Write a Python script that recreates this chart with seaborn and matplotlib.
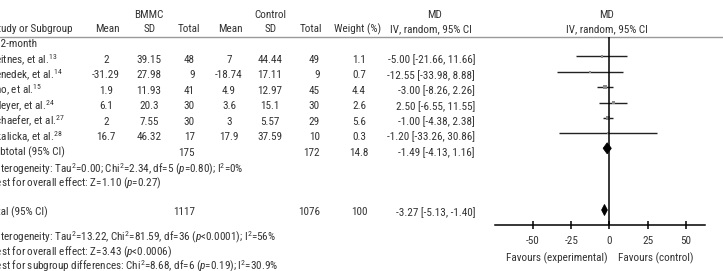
import matplotlib
matplotlib.use("Agg")
import matplotlib.pyplot as plt
from matplotlib import font_manager as fm
import seaborn as sns
import pandas as pd
from matplotlib.patches import Polygon

# ---------------- data ----------------
studies = ["Beitnes, et al.$^{13}$", "Benedek, et al.$^{14}$", "Cao, et al.$^{15}$",
           "Meyer, et al.$^{24}$", "Schaefer, et al.$^{27}$", "Skalicka, et al.$^{28}$"]
hidden_chars = [2, 2, 2, 1, 2, 2]
bm_mean = [2, -31.29, 1.9, 6.1, 2, 16.7]
bm_sd = [39.15, 27.98, 11.93, 20.3, 7.55, 46.32]
bm_n = [48, 9, 41, 30, 30, 17]
ct_mean = [7, -18.74, 4.9, 3.6, 3, 17.9]
ct_sd = [44.44, 17.11, 12.97, 15.1, 5.57, 37.59]
ct_n = [49, 9, 45, 30, 29, 10]
weight = [1.1, 0.7, 4.4, 2.6, 5.6, 0.3]
md = [-5.00, -12.55, -3.00, 2.50, -1.00, -1.20]
lo = [-21.66, -33.98, -8.26, -6.55, -4.38, -33.26]
hi = [11.66, 8.88, 2.26, 11.55, 2.38, 30.86]

sub_bm_n, sub_ct_n, sub_w = 175, 172, 14.8
sub_md, sub_lo, sub_hi = -1.49, -4.13, 1.16
tot_bm_n, tot_ct_n, tot_w = 1117, 1076, 100
tot_md, tot_lo, tot_hi = -3.27, -5.13, -1.40

xticks = [-50, -25, 0, 25, 50]

# ---------------- font: prefer a narrow / condensed sans ----------------
sns.set_theme(style="white")
FAM, STRETCH, FS = "DejaVu Sans", "normal", 6.4
narrow = []
for f in fm.fontManager.ttflist:
    st = str(f.stretch).lower()
    nm = f.name
    if f.style != "normal":
        continue
    if "Narrow" in nm or "Condensed" in nm or st in ("condensed", "semi-condensed", "extra-condensed"):
        if "Mono" in nm or "Serif" in nm:
            continue
        narrow.append(f)
order = ["Liberation Sans Narrow", "Roboto Condensed", "DejaVu Sans Condensed", "DejaVu Sans",
         "Open Sans Condensed", "Noto Sans"]
narrow.sort(key=lambda f: (order.index(f.name) if f.name in order else 99,
                           abs((f.weight if isinstance(f.weight, int) else 400) - 400)))
if narrow:
    FAM = narrow[0].name
    STRETCH = narrow[0].stretch
    FS = 8.0

plt.rcParams["font.family"] = [FAM, "DejaVu Sans"]
plt.rcParams["font.stretch"] = STRETCH
plt.rcParams["mathtext.fontset"] = "custom"
st_txt = "" if str(STRETCH) == "normal" else f":stretch={STRETCH}"
plt.rcParams["mathtext.rm"] = FAM + st_txt
plt.rcParams["mathtext.it"] = FAM + ":italic" + st_txt
plt.rcParams["mathtext.bf"] = FAM + ":bold" + st_txt

TXT = "#333333"

fig = plt.figure(figsize=(7.23, 2.71), dpi=100)
axt = fig.add_axes([0, 0, 1, 1])
axt.set_xlim(0, 723)
axt.set_ylim(271, 0)
axt.axis("off")

renderer = fig.canvas.get_renderer()


def prefix_width(s):
    if not s:
        return 0.0
    tt = axt.text(0, 0, s, fontsize=FS)
    bb = tt.get_window_extent(renderer=renderer)
    tt.remove()
    return bb.width


def label(y, full, nhidden):
    x = 0.5 - prefix_width(full[:nhidden])
    axt.text(x, y, full, fontsize=FS, color=TXT, ha="left", va="center")


def t(x, y, s, ha="center"):
    axt.text(x, y, s, fontsize=FS, color=TXT, ha=ha, va="center")


# header
t(149, 15, "BMMC")
t(270, 15, "Control")
t(435, 15, "MD")
t(607, 15, "MD")
label(29.5, "Study or Subgroup", 2)
t(107, 29.5, "Mean")
t(150, 29.5, "SD")
t(189, 29.5, "Total")
t(230, 29.5, "Mean")
t(271, 29.5, "SD")
t(311, 29.5, "Total")
t(358, 29.5, "Weight (%)")
t(431, 29.5, "IV, random, 95% CI")
t(607, 29.5, "IV, random, 95% CI")
axt.axhline(36.5, color="#9a9a9a", lw=1.0)

label(44, "12-month", 1)
row_txt = [60, 75.5, 90.8, 106.3, 121.6, 137]
for i, s in enumerate(studies):
    y = row_txt[i]
    label(y, s, hidden_chars[i])
    t(106, y, str(bm_mean[i]))
    t(149, y, str(bm_sd[i]))
    t(195, y, str(bm_n[i]), ha="right")
    t(229, y, str(ct_mean[i]))
    t(270, y, str(ct_sd[i]))
    t(320, y, str(ct_n[i]), ha="right")
    t(359, y, str(weight[i]))
    t(475, y, f"{md[i]:.2f} [{lo[i]:.2f}, {hi[i]:.2f}]", ha="right")

label(152.5, "Subtotal (95% CI)", 2)
t(195, 152.5, str(sub_bm_n), ha="right")
t(320, 152.5, str(sub_ct_n), ha="right")
t(359, 152.5, str(sub_w))
t(475, 152.5, f"{sub_md:.2f} [{sub_lo:.2f}, {sub_hi:.2f}]", ha="right")
label(169, "Heterogeneity: Tau$^2$=0.00; Chi$^2$=2.34, df=5 ($p$=0.80); I$^2$=0%", 2)
label(183.5, "Test for overall effect: Z=1.10 ($p$=0.27)", 2)

label(212.3, "Total (95% CI)", 3)
t(195, 212.3, str(tot_bm_n), ha="right")
t(320, 212.3, str(tot_ct_n), ha="right")
t(359, 212.3, str(tot_w))
t(475, 212.3, f"{tot_md:.2f} [{tot_lo:.2f}, {tot_hi:.2f}]", ha="right")
label(237.5, "Heterogeneity: Tau$^2$=13.22, Chi$^2$=81.59, df=36 ($p$<0.0001); I$^2$=56%", 2)
label(252.3, "Test for overall effect: Z=3.43 ($p$<0.0006)", 2)
label(266.5, "Test for subgroup differences: Chi$^2$=8.68, df=6 ($p$=0.19); I$^2$=30.9%", 2)

t(608, 258, "Favours (experimental)", ha="right")
t(618, 258, "Favours (control)", ha="left")

# ---------------- forest panel ----------------
ax = fig.add_axes([495 / 723, (271 - 225) / 271, 210 / 723, (225 - 36.5) / 271])
ax.set_facecolor("none")
ax.set_xlim(-74.8, 62.4)
ax.set_ylim(225, 36.5)
row_mark = [56.3, 71.7, 87.2, 102.5, 117.8, 133.2]

ax.hlines(row_mark, lo, hi, color="#222222", lw=1.0)
df = pd.DataFrame({"md": md, "y": row_mark, "w": weight})
sns.scatterplot(data=df, x="md", y="y", size="w", sizes=(2, 10), marker="s",
                color="#8a8a8a", edgecolor="none", legend=False, ax=ax, zorder=3)
ax.axvline(0, color="black", lw=1.1, zorder=4)


def diamond(yc, m, l, h, hh):
    ax.add_patch(Polygon([[l, yc], [m, yc - hh], [h, yc], [m, yc + hh]],
                         closed=True, facecolor="black", edgecolor="black", lw=0.6, zorder=5))


diamond(148.3, sub_md, sub_lo, sub_hi, 5.5)
diamond(210, tot_md, tot_lo, tot_hi, 5.5)

for s in ["top", "left", "right"]:
    ax.spines[s].set_visible(False)
ax.spines["bottom"].set_color("black")
ax.spines["bottom"].set_linewidth(1.1)
ax.set_yticks([])
ax.set_xticks(xticks)
ax.set_xticklabels([str(v) for v in xticks])
ax.tick_params(axis="x", direction="inout", length=6, width=1.1, color="black",
               labelsize=FS, labelcolor=TXT, pad=5, bottom=True)
ax.set_xlabel("")
ax.set_ylabel("")

fig.savefig("out.png", dpi=100)
